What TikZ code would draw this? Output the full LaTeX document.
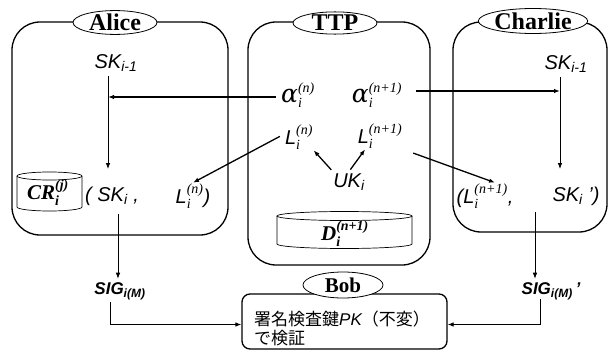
\documentclass[tikz,border=0pt]{standalone}
\usepackage{amsmath}
\usepackage{fontspec}
\setmainfont{Liberation Serif}
\setsansfont{Liberation Sans}
\newfontfamily\jpfont{Noto Sans CJK JP}
\newfontfamily\grk{DejaVu Serif}
\usetikzlibrary{arrows.meta,shapes.geometric}
% script sizes used by the indexed symbols
\DeclareMathSizes{20}{20}{14}{10}
\DeclareMathSizes{21}{21}{14}{10}
\DeclareMathSizes{17}{17}{12}{9}
\newcommand\fs[1]{\fontsize{#1}{#1}\selectfont}
\newcommand\alp{\text{\grk\itshape\fs{25}α}}

\begin{document}
\begin{tikzpicture}[x=1pt,y=-1pt,
  party/.style={draw, line width=1.3pt, rounded corners=28pt, inner sep=0pt},
  tag/.style={ellipse, draw, line width=0.8pt, fill=white, inner sep=0pt, font=\rmfamily\bfseries\fs{24}},
  sym/.style={font=\sffamily\itshape\fs{20}, inner sep=0.5pt},
  ser/.style={font=\rmfamily\itshape\fs{20}, inner sep=0pt},
  store/.style={font=\rmfamily\bfseries\itshape\fs{21}, inner sep=0.5pt},
  sig/.style={font=\sffamily\bfseries\itshape\fs{17}, inner sep=0.5pt},
  arr/.style={-{Latex[length=6pt,width=4.5pt]}, line width=0.8pt},
  barr/.style={arr, line width=1.3pt},
  drum/.style={line width=0.7pt, fill=white}]

\useasboundingbox (0,0) rectangle (614,356);

% participant frames
\node[party, minimum width=216pt, minimum height=213pt] (alice) at (120,128.5) {};
\node[party, minimum width=182pt, minimum height=243pt] (ttp) at (339,143.5) {};
\node[party, minimum width=154pt, minimum height=210pt] (charlie) at (530,127) {};
\node[draw, line width=1.3pt, rounded corners=8pt, minimum width=205pt, minimum height=55pt] (bob) at (344.5,321.5) {};

% name tags
\node[tag, minimum width=84pt, minimum height=20pt] (aliceTag) at (115,22.5) {Alice};
\node[tag, minimum width=84pt, minimum height=20pt] (ttpTag) at (335,23) {TTP};
\node[tag, minimum width=87pt, minimum height=25pt] (charlieTag) at (533,21) {Charlie};
\node[tag, minimum width=80pt, minimum height=26pt, font=\rmfamily\bfseries\fs{21}] (bobTag) at (343,285) {Bob};

% storage drums
\draw[drum] (17,176) -- (17,207) arc[start angle=180, end angle=0, x radius=32.5, y radius=4] -- (82,176);
\draw[drum] (49.5,176) ellipse[x radius=32.5, y radius=4];
\draw[drum] (277,216) -- (277,244) arc[start angle=180, end angle=0, x radius=67.5, y radius=4.5] -- (412,216);
\draw[drum] (344.5,216) ellipse[x radius=67.5, y radius=4.5];

% Alice
\node[sym] (aPrev) at (116,63) {$\text{SK}_{\text{i-1}}$};
\node[store] (cr) at (48,193) {$\text{CR}_{\text{i}}^{\text{(j)}}$};
\node[sym] (aSK) at (112,196) {( $\text{SK}_{\text{i}}$ ,};
\node[sym] (aL) at (193,196) {$\text{L}_{\text{\rmfamily i}}^{\text{\rmfamily (n)}}$)};
\node[sig] (aSIG) at (120,291) {$\text{SIG}_{\text{i(M)}}$};

% TTP
\node[ser] (alN) at (298,95) {$\alp_{\text{i}}^{\text{(n)}}$};
\node[ser] (alN1) at (377,95) {$\alp_{\text{i}}^{\text{(n+1)}}$};
\node[sym] (LN) at (299,137) {$\text{L}_{\text{\rmfamily i}}^{\text{\rmfamily (n)}}$};
\node[sym] (LN1) at (380,136) {$\text{L}_{\text{\rmfamily i}}^{\text{\rmfamily (n+1)}}$};
\node[sym] (uk) at (349,182) {$\text{UK}_{\text{i}}$};
\node[store] (d) at (345,234) {$\text{D}_{\text{i}}^{\text{(n+1)}}$};

% Charlie
\node[sym] (cPrev) at (566,64) {$\text{SK}_{\text{i-1}}$};
\node[sym] (cL) at (485,196) {($\text{L}_{\text{\rmfamily i}}^{\text{\rmfamily (n+1)}}$,};
\node[sym] (cSK) at (576,196) {$\text{SK}_{\text{i}}$ ’)};
\node[sig] (cSIG) at (551,291) {$\text{SIG}_{\text{i(M)}}$\,’};

% Bob
\node[font=\jpfont\fontsize{17}{19}\selectfont, align=left, anchor=west, inner sep=0pt] (bobText) at (254,328)
  {署名検査鍵{\sffamily\itshape PK}（不変）\\で検証};

% connector ends
\coordinate (aV1) at (108,76);
\coordinate (aV2) at (108,169);
\coordinate (aJ) at (108,97);
\coordinate (cV1) at (560,77);
\coordinate (cV2) at (560,169);
\coordinate (cJ) at (560,91);
\coordinate (aOut) at (118,214);
\coordinate (aDn) at (110,302);
\coordinate (cOut) at (535,212);
\coordinate (cDn) at (540,299);

% key update inside Alice and Charlie
\draw[arr] (aV1) -- (aV2);
\draw[arr] (cV1) -- (cV2);

% TTP distributes alpha values
\draw[barr, shorten <=5pt] (alN.west |- aJ) -- (aJ);
\draw[barr, shorten <=14pt] (alN1.east |- cJ) -- (cJ);

% TTP derives L values from UK
\draw[barr, shorten <=4pt] ([xshift=-15pt]uk.north) -- (LN.south east);
\draw[barr, shorten <=4pt] ([xshift=-1pt]uk.north) -- ([xshift=8pt]LN1.south west);

% L values sent out
\draw[barr, shorten <=5pt] ([yshift=3pt]LN.west) -- (aL.north);
\draw[barr, shorten <=11pt] (LN1.south east) -- ([xshift=10pt]cL.north);

% signatures and verification
\draw[arr, shorten >=3pt] (aOut) -- (aOut |- aSIG.north);
\draw[arr, shorten >=3pt] (cOut) -- (cOut |- cSIG.north);
\draw[arr] (aDn) |- ([yshift=-3pt]bob.west);
\draw[arr] (cDn) |- ([yshift=-3pt]bob.east);

\end{tikzpicture}
\end{document}
